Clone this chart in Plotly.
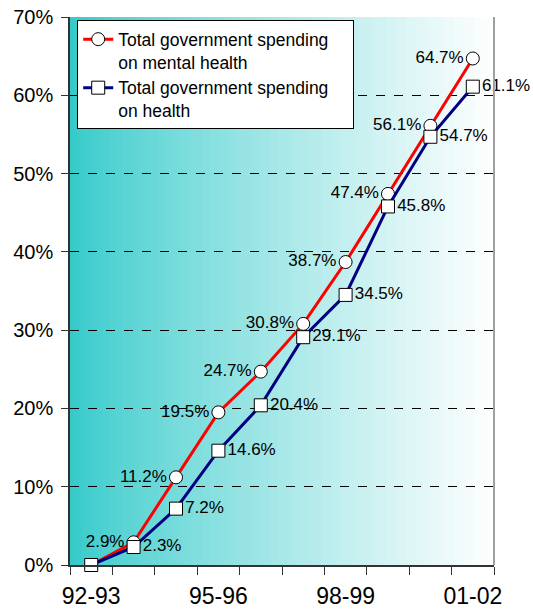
import plotly.graph_objects as go

years = ["92-93", "93-94", "94-95", "95-96", "96-97", "97-98", "98-99", "99-00", "00-01", "01-02"]
shown_labels = ["92-93", "", "", "95-96", "", "", "98-99", "", "", "01-02"]
mental = [0, 2.9, 11.2, 19.5, 24.7, 30.8, 38.7, 47.4, 56.1, 64.7]
health = [0, 2.3, 7.2, 14.6, 20.4, 29.1, 34.5, 45.8, 54.7, 61.1]

def lab(v):
    return [("" if x == 0 else f"{x:.1f}%") for x in v]

FONT = "Arial, 'Liberation Sans', sans-serif"
PAD = "\u00a0" * 4

fig = go.Figure()
fig.add_trace(go.Scatter(
    x=years, y=mental, mode="lines+markers+text",
    name="Total government spending" + PAD + "<br>on mental health",
    line=dict(color="#FF0000", width=3),
    marker=dict(symbol="circle", size=13, color="white", line=dict(color="black", width=1)),
    text=lab(mental), textposition="middle left",
    textfont=dict(size=17, color="black", family=FONT),
    cliponaxis=False,
))
fig.add_trace(go.Scatter(
    x=years, y=health, mode="lines+markers+text",
    name="Total government spending" + PAD + "<br>on health",
    line=dict(color="#000080", width=3),
    marker=dict(symbol="square", size=13, color="white", line=dict(color="black", width=1)),
    text=lab(health), textposition="middle right",
    textfont=dict(size=17, color="black", family=FONT),
    cliponaxis=False,
))

# background gradient (teal -> white)
shapes = []
N = 106
c0 = (51, 202, 202)
for i in range(N):
    t = (i + 0.5) / N
    f = t ** 0.8
    r = int(c0[0] + (255 - c0[0]) * f)
    g = int(c0[1] + (255 - c0[1]) * f)
    b = int(c0[2] + (255 - c0[2]) * f)
    shapes.append(dict(type="rect", xref="x domain", yref="y domain",
                       x0=i / N, x1=(i + 1) / N + 0.002, y0=0, y1=1,
                       fillcolor=f"rgb({r},{g},{b})", line=dict(width=0), layer="below"))
shapes.append(dict(type="line", xref="x domain", yref="y domain", x0=1, x1=1, y0=0, y1=1,
                   line=dict(color="#A0A0A0", width=2)))

fig.update_layout(
    width=533, height=612,
    margin=dict(l=70, r=39, t=17, b=47),
    paper_bgcolor="white", plot_bgcolor="white",
    font=dict(family=FONT, color="black"),
    shapes=shapes,
    showlegend=True,
    legend=dict(x=0.017, y=0.994, xanchor="left", yanchor="top",
                bgcolor="white", bordercolor="black", borderwidth=1,
                font=dict(size=17.5, family=FONT), valign="top",
                tracegroupgap=4),
    xaxis=dict(type="category", tickmode="array", tickvals=years, ticktext=shown_labels,
               tickson="boundaries", ticks="outside", ticklen=8, tickcolor="#333",
               showline=True, linecolor="#333", linewidth=1.5, showgrid=False,
               tickfont=dict(size=23), range=[-0.5, 9.5], tickangle=0, automargin=False,
               ticklabelstandoff=10),
    yaxis=dict(range=[0, 70], dtick=10, ticksuffix="%", ticks="outside", ticklen=7,
               tickcolor="#333", showline=True, linecolor="#333", linewidth=1.5,
               showgrid=True, gridcolor="black", griddash="dash", gridwidth=1,
               zeroline=False, tickfont=dict(size=20), automargin=False,
               ticklabelstandoff=4),
)

fig.write_html("out.html")
